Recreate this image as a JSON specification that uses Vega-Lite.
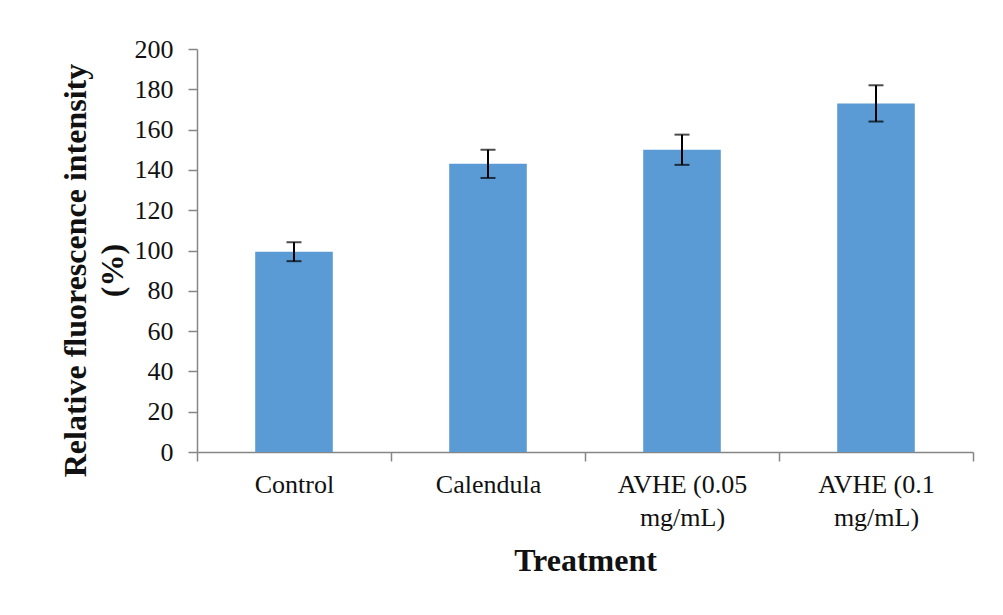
{
  "$schema": "https://vega.github.io/schema/vega-lite/v6.json",
  "width": 776,
  "height": 403,
  "autosize": {"type": "none"},
  "padding": {"left": 197, "top": 49, "right": 30, "bottom": 163},
  "background": "white",
  "config": {
    "view": {"stroke": null},
    "font": "Liberation Serif",
    "axis": {
      "domainColor": "#868686",
      "tickColor": "#868686",
      "domainWidth": 1.5,
      "tickWidth": 1.5,
      "tickSize": 9,
      "labelFont": "Liberation Serif",
      "labelFontSize": 26,
      "labelColor": "#111111",
      "titleFont": "Liberation Serif",
      "titleColor": "#111111",
      "titleFontWeight": "bold",
      "titleFontSize": 32,
      "grid": false
    }
  },
  "data": {
    "values": [
      {"treatment": "Control", "intensity": 99.4, "lo": 94.7, "hi": 104.1},
      {"treatment": "Calendula", "intensity": 143, "lo": 136, "hi": 150},
      {"treatment": "AVHE (0.05 mg/mL)", "intensity": 150, "lo": 142.5, "hi": 157.5},
      {"treatment": "AVHE (0.1 mg/mL)", "intensity": 173, "lo": 164, "hi": 182}
    ]
  },
  "encoding": {
    "x": {
      "field": "treatment",
      "type": "nominal",
      "sort": null,
      "scale": {"paddingInner": 0, "paddingOuter": 0},
      "axis": {
        "title": "Treatment",
        "labelAngle": 0,
        "tickBand": "extent",
        "labelBaseline": "alphabetic",
        "labelPadding": 31,
        "labelLineHeight": 33,
        "labelExpr": "indexof(datum.label, ' mg') > 0 ? [slice(datum.label, 0, indexof(datum.label, ' mg')), slice(datum.label, indexof(datum.label, ' mg') + 1)] : datum.label",
        "titleBaseline": "alphabetic",
        "titleY": 118,
        "titleX": 388,
        "titleAnchor": "middle"
      }
    }
  },
  "layer": [
    {
      "mark": {"type": "bar", "color": "#5B9BD5", "width": {"band": 0.4}},
      "encoding": {
        "y": {
          "field": "intensity",
          "type": "quantitative",
          "scale": {"domain": [0, 200], "nice": false},
          "axis": {
            "title": ["Relative fluorescence intensity", "(%)"],
            "values": [0, 20, 40, 60, 80, 100, 120, 140, 160, 180, 200],
            "labelPadding": 15,
            "titleAngle": -90,
            "titleAlign": "center",
            "titleBaseline": "middle",
            "titleLineHeight": 37,
            "titleX": -122,
            "titleY": 221
          }
        }
      }
    },
    {
      "mark": {"type": "rule", "color": "#000000", "strokeWidth": 2},
      "encoding": {
        "y": {"field": "lo", "type": "quantitative"},
        "y2": {"field": "hi"}
      }
    },
    {
      "mark": {"type": "tick", "color": "#000000", "size": 15, "thickness": 2},
      "encoding": {"y": {"field": "lo", "type": "quantitative"}}
    },
    {
      "mark": {"type": "tick", "color": "#000000", "size": 15, "thickness": 2},
      "encoding": {"y": {"field": "hi", "type": "quantitative"}}
    }
  ]
}
